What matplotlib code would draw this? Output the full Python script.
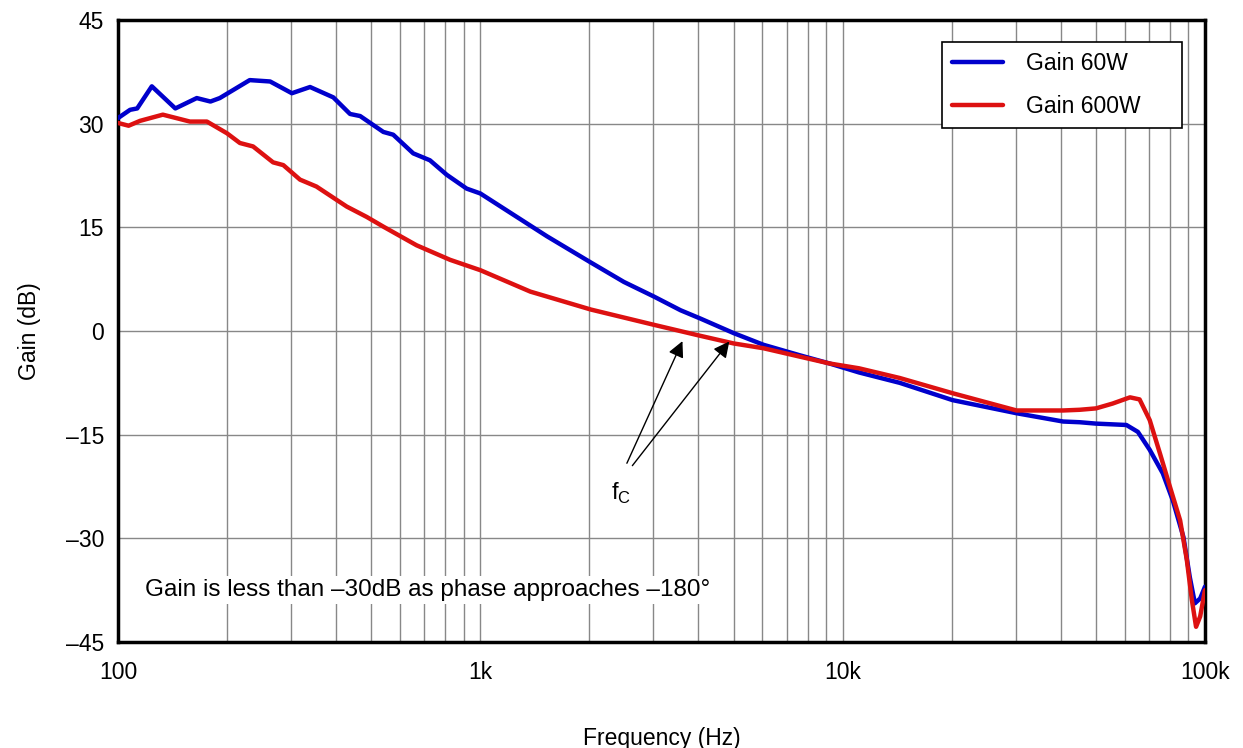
import matplotlib.pyplot as plt
import numpy as np

plt.rcParams['font.family'] = ['Liberation Sans', 'DejaVu Sans']

# Gain 60W (Hz, dB)
f_60 = [100, 108, 113, 124, 144, 165, 180, 191, 231, 263, 302, 339, 393, 437, 466,
        540, 575, 653, 726, 808, 917, 1000, 1236, 1528, 2020, 2490, 3010, 3570,
        4050, 5000, 6050, 7600, 9200, 11100, 14370, 20100, 30200, 40600, 45100,
        50000, 60700, 65300, 70400, 76500, 81500, 87200, 90800, 93800, 97000,
        100000]
g_60 = [30.8, 32.0, 32.2, 35.4, 32.2, 33.7, 33.2, 33.7, 36.3, 36.1, 34.4, 35.3, 33.8,
        31.4, 31.1, 28.8, 28.4, 25.7, 24.7, 22.6, 20.6, 19.9, 16.8, 13.7, 9.9, 7.1,
        5.0, 3.0, 1.8, -0.3, -2.0, -3.5, -4.7, -6.0, -7.5, -10.0, -11.9, -13.1,
        -13.2, -13.4, -13.6, -14.6, -17.2, -20.6, -24.5, -29.8, -35.6, -39.4,
        -38.7, -37.0]

# Gain 600W (Hz, dB)
f_600 = [100, 107, 115, 133, 158, 176, 200, 217, 236, 268, 286, 318, 353, 428, 486,
         540, 667, 825, 1000, 1374, 2020, 3010, 4050, 5000, 6050, 7600, 9200, 11100,
         14370, 20100, 30200, 40600, 45100, 50000, 55600, 62100, 66000, 70400,
         75100, 80000, 85400, 89100, 92000, 94500, 97000, 100000]
g_600 = [30.1, 29.7, 30.4, 31.3, 30.3, 30.3, 28.6, 27.2, 26.7, 24.4, 24.0, 21.9, 20.9,
         18.0, 16.5, 15.1, 12.4, 10.3, 8.8, 5.7, 3.1, 0.9, -0.7, -1.8, -2.5, -3.7,
         -4.7, -5.4, -6.8, -9.0, -11.5, -11.5, -11.4, -11.2, -10.5, -9.6, -9.9,
         -12.9, -17.7, -22.5, -27.4, -33.1, -38.9, -42.8, -41.3, -37.5]

y_ticks = [-45, -30, -15, 0, 15, 30, 45]
x_ticks = [100, 1000, 10000, 100000]
x_labels = ["100", "1k", "10k", "100k"]

fig = plt.figure(figsize=(12.43, 7.48), dpi=100)
ax = fig.add_axes([0.0949, 0.1417, 0.8745, 0.8316])

ax.plot(f_60, g_60, color="#0000cc", lw=3.2, label="Gain 60W", zorder=3,
        solid_joinstyle="round", solid_capstyle="round")
ax.plot(f_600, g_600, color="#dd1111", lw=3.2, label="Gain 600W", zorder=3,
        solid_joinstyle="round", solid_capstyle="round")

ax.set_xscale("log")
ax.set_xlim(100, 100000)
ax.set_ylim(-45, 45)
ax.set_yticks(y_ticks)
ax.set_yticklabels([str(v).replace("-", "\u2013") for v in y_ticks])
ax.set_xticks(x_ticks)
ax.set_xticklabels(x_labels)
ax.tick_params(which="both", length=0, labelsize=16.5)
ax.tick_params(axis="x", pad=14)
ax.tick_params(axis="y", pad=10)
ax.grid(True, which="major", color="#888888", lw=1)
ax.grid(True, which="minor", axis="x", color="#888888", lw=1)
for s in ax.spines.values():
    s.set_linewidth(2.5)

ax.set_xlabel("Frequency (Hz)", fontsize=16.5)
ax.xaxis.set_label_coords(0.5, -0.137)
ax.set_ylabel("Gain (dB)", fontsize=16.5, labelpad=18)

leg = ax.legend(loc="upper left", fontsize=16.5, handlelength=2.2, handletextpad=1.0,
                fancybox=False, edgecolor="black", framealpha=1, borderaxespad=0,
                borderpad=0.45, labelspacing=0.85, mode="expand",
                bbox_to_anchor=(0.758, 0.0, 0.221, 0.965))
leg.get_frame().set_linewidth(1.2)

ax.text(119, -37.5, "Gain is less than \u201330dB as phase approaches \u2013180\u00b0",
        fontsize=17.5, va="center", ha="left", zorder=4,
        bbox=dict(facecolor="white", edgecolor="none", pad=2))

# f_C arrows
ax.text(2300, -23.5, "f$_\\mathregular{C}$", fontsize=17, ha="left", va="center")
arrow = dict(arrowstyle="-|>", color="black", lw=1, mutation_scale=24)
ax.annotate("", xy=(3640, -1.1), xytext=(2520, -19.5), arrowprops=arrow)
ax.annotate("", xy=(4920, -1.2), xytext=(2600, -19.8), arrowprops=arrow)

fig.savefig("out.png", dpi=100)
